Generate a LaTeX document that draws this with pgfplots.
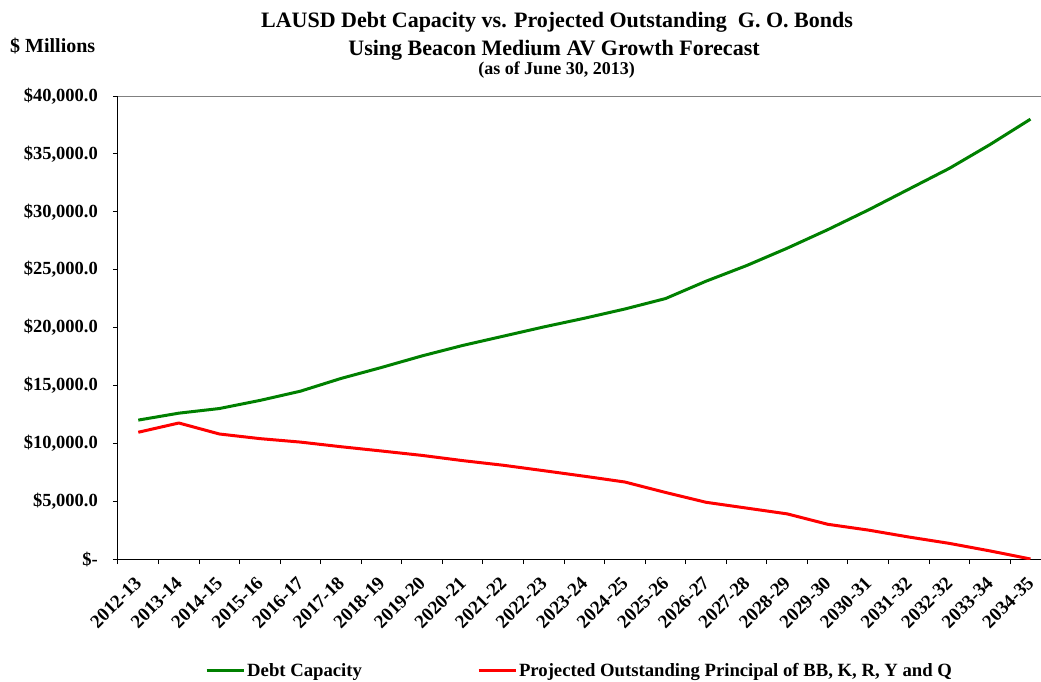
\documentclass[border=0pt]{standalone}
\usepackage{fontspec}
\setmainfont{Liberation Serif}
\usepackage{pgfplots}
\usepackage{pgfplotstable}
\pgfplotsset{compat=1.18}
\definecolor{dgreen}{RGB}{0,128,0}
\definecolor{lred}{RGB}{255,0,0}
\pgfplotstableread{
x debt princ
0 12000 10950
1 12600 11750
2 13000 10800
3 13700 10400
4 14500 10100
5 15600 9700
6 16550 9330
7 17550 8950
8 18450 8500
9 19250 8100
10 20050 7630
11 20800 7150
12 21600 6650
13 22500 5750
14 24000 4900
15 25350 4400
16 26850 3900
17 28450 3000
18 30150 2500
19 31950 1900
20 33750 1350
21 35800 700
22 38000 0
}\datatable
\begin{document}
\begin{tikzpicture}
\begin{axis}[
 at={(0pt,0pt)}, anchor=south west,
 scale only axis, width=923pt, height=463pt,
 xmin=-0.5, xmax=22.26, ymin=0, ymax=40000,
 scaled y ticks=false,
 axis x line*=bottom, axis y line*=left,
 axis line style={line width=1pt, -},
 tick align=outside, major tick length=0pt, minor tick length=5pt,
 tick style={black, line width=1pt},
 ytick={0,5000,...,40000},
 minor ytick={0,5000,...,40000},
 yticklabels={\$-\hspace{6pt}, {\$5,000.0}, {\$10,000.0}, {\$15,000.0}, {\$20,000.0}, {\$25,000.0}, {\$30,000.0}, {\$35,000.0}, {\$40,000.0}},
 xtick={0,...,22},
 minor xtick={-0.5,0.5,...,21.5},
 xticklabels={2012-13,2013-14,2014-15,2015-16,2016-17,2017-18,2018-19,2019-20,2020-21,2021-22,2022-23,2023-24,2024-25,2025-26,2026-27,2027-28,2028-29,2029-30,2030-31,2031-32,2032-32,2033-34,2034-35},
 yticklabel style={anchor=east, inner sep=0pt, font=\bfseries\fontsize{18.5}{20}\selectfont},
 yticklabel shift=20pt,
 xticklabel style={rotate=45, anchor=east, inner sep=0pt, font=\bfseries\fontsize{19}{21}\selectfont},
 xticklabel shift=21pt,
 legend columns=2,
 legend style={at={(axis description cs:0.0943,-0.2418)}, anchor=west, draw=none, fill=none,
   font=\bfseries\fontsize{18.7}{20}\selectfont, inner sep=0pt,
   /tikz/every even column/.append style={column sep=113pt}},
 legend image code/.code={\draw[#1] (0pt,0pt) -- (37pt,0pt);},
]
\draw[gray, line width=1pt] (rel axis cs:0,1) -- (rel axis cs:1,1);
\addplot[dgreen, line width=3pt, line join=round] table[x=x, y=debt] {\datatable};
\addlegendentry{Debt Capacity}
\addplot[lred, line width=3pt, line join=round] table[x=x, y=princ] {\datatable};
\addlegendentry{Projected Outstanding Principal of BB, K, R, Y and Q}
\end{axis}
\node[anchor=base, font=\bfseries\fontsize{22}{24}\selectfont] at (439pt,531pt) {LAUSD Debt Capacity vs. Projected Outstanding\ \ G. O. Bonds};
\node[anchor=base, font=\bfseries\fontsize{22}{24}\selectfont] at (436pt,503pt) {Using Beacon Medium AV Growth Forecast};
\node[anchor=base, font=\bfseries\fontsize{18}{20}\selectfont] at (438.5pt,484pt) {(as of June 30, 2013)};
\node[anchor=base west, inner sep=0pt, font=\bfseries\fontsize{20}{22}\selectfont] at (-108pt,506pt) {\$ Millions};
\pgfresetboundingbox
\path[use as bounding box] (-118pt,-122pt) rectangle (923pt,559pt);
\end{tikzpicture}
\end{document}
